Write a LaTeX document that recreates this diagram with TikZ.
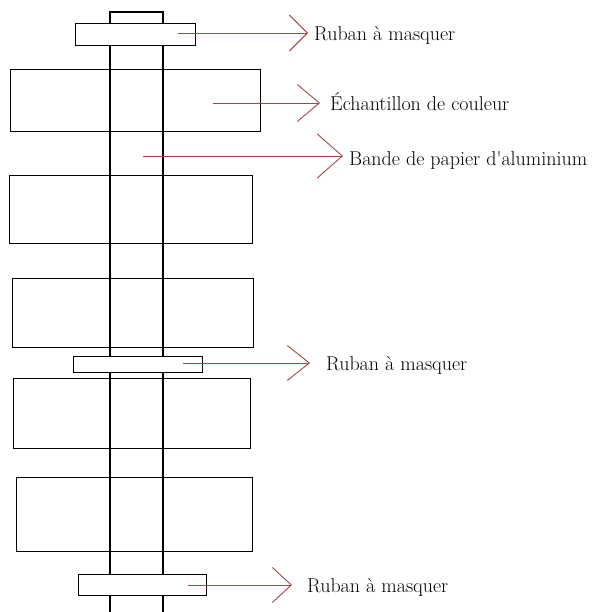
\documentclass[tikz,border=0pt]{standalone}
\usepackage{fontspec}
\usetikzlibrary{arrows.meta}
\definecolor{leader}{HTML}{A04848}
\begin{document}
\begin{tikzpicture}[x=1pt,y=-1pt,
  outline/.style={draw=black,line width=1.2pt},
  sample/.style={outline,rectangle,inner sep=0pt,anchor=north west},
  tape/.style={outline,fill=white,rectangle,inner sep=0pt,anchor=north west},
  leaderline/.style={draw=leader,line width=0.9pt},
  lbl/.style={anchor=base west,inner sep=0pt,text=black,
    font=\fontsize{20}{24}\selectfont\addfontfeatures{FakeBold=1.2}}]
\useasboundingbox (0,0) rectangle (591,612);

% aluminium foil strip running down the middle
\draw[outline] (110,612) -- (110,12) -- (163,12) -- (163,612);

% colour samples laid across the strip
\node[sample,minimum width=250pt,minimum height=62pt] (s1) at (10,69) {};
\node[sample,minimum width=243pt,minimum height=68pt] (s2) at (9,175) {};
\node[sample,minimum width=241pt,minimum height=69pt] (s3) at (12,278) {};
\node[sample,minimum width=237pt,minimum height=70pt] (s4) at (13,378) {};
\node[sample,minimum width=236pt,minimum height=74pt] (s5) at (16,477) {};

% masking tape pieces
\node[tape,minimum width=120pt,minimum height=22pt] (t1) at (75,23) {};
\node[tape,minimum width=129pt,minimum height=16pt] (t2) at (73,356) {};
\node[tape,minimum width=128pt,minimum height=21pt] (t3) at (78,574) {};

% leader start and tip points
\coordinate (a1) at (178,33);  \coordinate (b1) at (308,33);
\coordinate (a2) at (213,103); \coordinate (b2) at (320,103);
\coordinate (a3) at (143,156); \coordinate (b3) at (343,156);
\coordinate (a4) at (183,363); \coordinate (b4) at (310,363);
\coordinate (a5) at (188,585); \coordinate (b5) at (292,585);

% labels
\node[lbl] (l1) at (314,41)  {Ruban à masquer};
\node[lbl] (l2) at (330,111) {Échantillon de couleur};
\node[lbl] (l3) at (349,166) {Bande de papier d\textquotesingle aluminium};
\node[lbl] (l4) at (326,370) {Ruban à masquer};
\node[lbl] (l5) at (307,592) {Ruban à masquer};

% leader arrows
\draw[leaderline,-{Straight Barb[length=18pt,width=36pt]}] (a1) -- (b1);
\draw[leaderline,-{Straight Barb[length=22pt,width=37pt]}] (a2) -- (b2);
\draw[leaderline,-{Straight Barb[length=25pt,width=44pt]}] (a3) -- (b3);
\draw[leaderline,-{Straight Barb[length=22pt,width=35pt]}] (a4) -- (b4);
\draw[leaderline,-{Straight Barb[length=19pt,width=35pt]}] (a5) -- (b5);
\end{tikzpicture}
\end{document}
